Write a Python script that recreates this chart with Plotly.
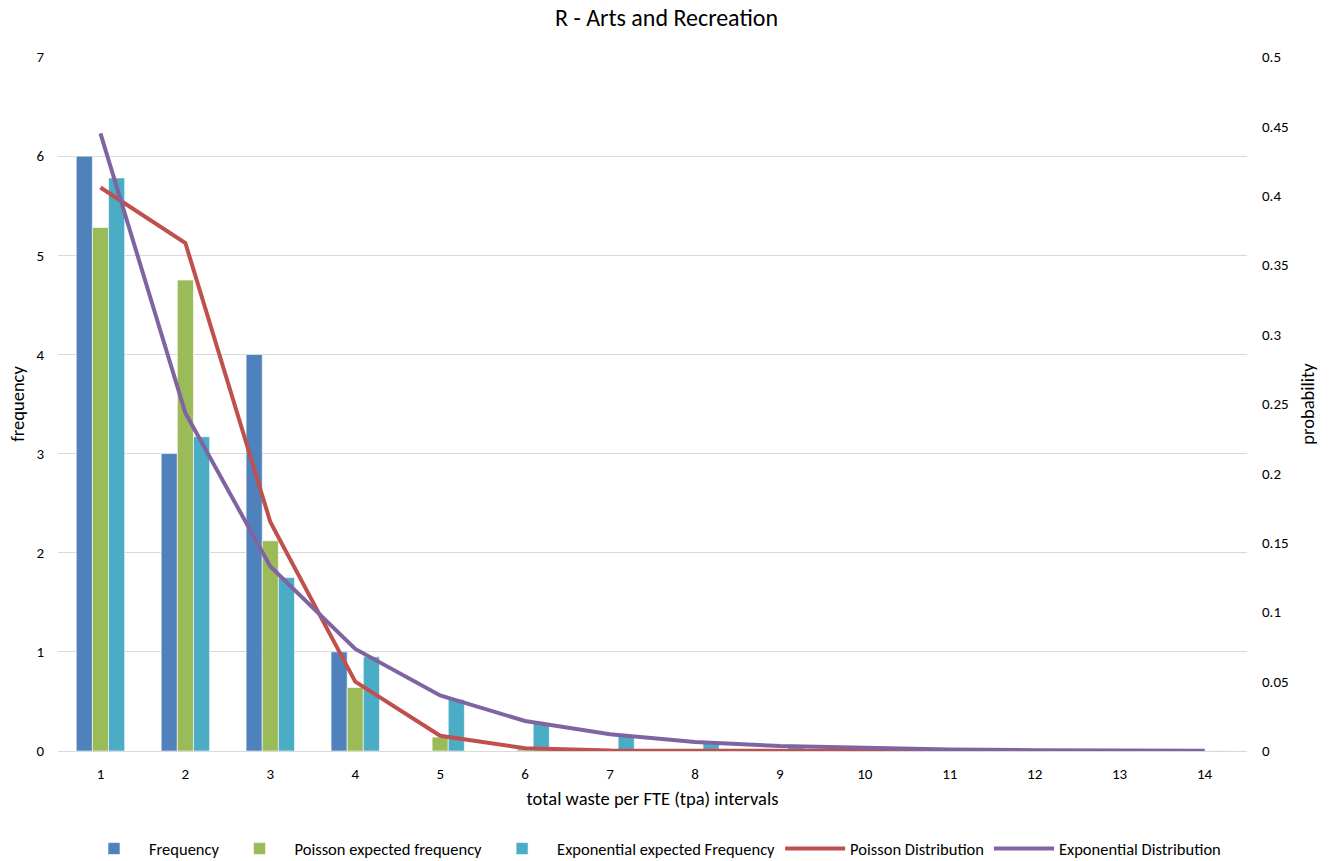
import plotly.graph_objects as go

categories = [str(i) for i in range(1, 15)]
frequency = [6, 3, 4, 1, 0, 0, 0, 0, 0, 0, 0, 0, 0, 0]
poisson_expected = [5.28, 4.75, 2.12, 0.64, 0.14, 0.02, 0.003, 0, 0, 0, 0, 0, 0, 0]
exponential_expected = [5.78, 3.17, 1.75, 0.95, 0.52, 0.28, 0.15, 0.08, 0.045, 0.025, 0.014, 0.008, 0.004, 0.002]
poisson_dist = [0.406, 0.366, 0.165, 0.050, 0.011, 0.002, 0.0003, 0.00004, 0, 0, 0, 0, 0, 0]
exponential_dist = [0.445, 0.2435, 0.133, 0.0735, 0.040, 0.0216, 0.012, 0.0065, 0.0036, 0.002, 0.0011, 0.0006, 0.0003, 0.0002]

left_ticks = [0, 1, 2, 3, 4, 5, 6, 7]
right_ticks = [0, 0.05, 0.1, 0.15, 0.2, 0.25, 0.3, 0.35, 0.4, 0.45, 0.5]
right_labels = ["0", "0.05", "0.1", "0.15", "0.2", "0.25", "0.3", "0.35", "0.4", "0.45", "0.5"]

FONT = "Carlito, Calibri, 'Liberation Sans', Arial, sans-serif"

fig = go.Figure()
fig.add_trace(go.Bar(x=categories, y=frequency, name="Frequency",
                     marker=dict(color="#4F81BD", line=dict(color="rgba(255,255,255,0.6)", width=1))))
fig.add_trace(go.Bar(x=categories, y=poisson_expected, name="Poisson expected frequency",
                     marker=dict(color="#9BBB59", line=dict(color="rgba(255,255,255,0.6)", width=1))))
fig.add_trace(go.Bar(x=categories, y=exponential_expected, name="Exponential expected Frequency",
                     marker=dict(color="#4BACC6", line=dict(color="rgba(255,255,255,0.6)", width=1))))
fig.add_trace(go.Scatter(x=categories, y=poisson_dist, name="Poisson Distribution", mode="lines",
                         line=dict(color="#C0504D", width=4), yaxis="y2"))
fig.add_trace(go.Scatter(x=categories, y=exponential_dist, name="Exponential Distribution", mode="lines",
                         line=dict(color="#8064A2", width=4), yaxis="y2"))

fig.update_layout(
    width=1333, height=861,
    paper_bgcolor="white", plot_bgcolor="white",
    font=dict(family=FONT, size=15, color="#000000"),
    title=dict(text="R - Arts and Recreation", x=0.5, xanchor="center", y=0.979, yanchor="middle",
               font=dict(size=24, color="#000000"), automargin=False),
    margin=dict(l=58, r=86, t=57, b=110, autoexpand=False),
    barmode="group", bargap=0.43, bargroupgap=0,
    showlegend=True,
    legend=dict(orientation="h", x=0.5, xanchor="center", y=-0.141, yanchor="middle",
                font=dict(size=16.5), itemwidth=60, traceorder="normal"),
    xaxis=dict(title=dict(text="total waste per FTE (tpa) intervals", font=dict(size=18.5), standoff=10),
               showgrid=False, showline=True, linecolor="#D9D9D9", linewidth=1, automargin=False,
               ticks="", tickfont=dict(size=15), ticklabelstandoff=9),
    yaxis=dict(title=dict(text="frequency", font=dict(size=18.5), standoff=6),
               range=[0, 7], tickvals=left_ticks, showgrid=True, gridcolor="#D9D9D9", gridwidth=1,
               zeroline=False, showline=False, ticks="", tickfont=dict(size=15), automargin=False,
               ticklabelstandoff=13),
    yaxis2=dict(title=dict(text="probability", font=dict(size=18.5), standoff=13),
                overlaying="y", side="right", range=[0, 0.5], automargin=False,
                tickvals=right_ticks, ticktext=right_labels, showgrid=False, zeroline=False,
                showline=False, ticks="", tickfont=dict(size=15), ticklabelstandoff=14),
)

fig.write_html("out.html", config={"displayModeBar": False},
               post_script="document.body.style.margin='0';document.body.style.padding='0';")
